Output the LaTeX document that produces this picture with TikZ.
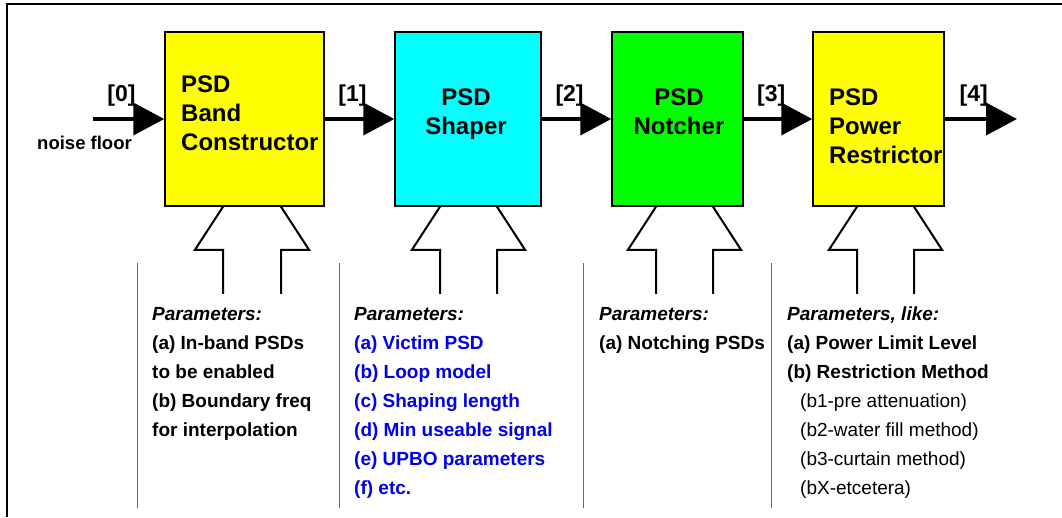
\documentclass[tikz,border=0pt]{standalone}
\usepackage{fontspec}
\setmainfont{Liberation Sans}
\usetikzlibrary{arrows.meta,positioning}

\definecolor{parmblue}{RGB}{0,0,235}
\definecolor{boxyellow}{RGB}{255,255,0}
\definecolor{boxcyan}{RGB}{0,255,255}
\definecolor{boxgreen}{RGB}{0,255,0}

%% open block arrow under a box: box name, left stem x, right stem x
\newcommand{\parmarrow}[3]{%
  \draw[parm arrow] (#2,0 |- #1.south) -- ++(-28,43) -- ++(28,0) -- ++(0,44);
  \draw[parm arrow] (#3,0 |- #1.south) -- ++(28,43) -- ++(-28,0) -- ++(0,44);
}

\begin{document}
\begin{tikzpicture}[x=1pt, y=-1pt,
  psd box/.style={draw, line width=1.5pt, minimum height=174pt, inner sep=0},
  box text/.style={inner sep=0, font=\fontsize{24}{29}\selectfont\bfseries},
  flow/.style={line width=4pt, -{Triangle[length=31pt,width=32pt]}},
  flow label/.style={above=11pt, inner sep=0, font=\fontsize{23}{27}\selectfont\bfseries},
  parm arrow/.style={line width=2pt},
  parm text/.style={anchor=north west, inner sep=0, align=left, font=\fontsize{19}{29}\selectfont\bfseries},
  sep line/.style={draw=black!60, line width=1pt}]

\useasboundingbox (0,0) rectangle (1062,517);

%% frame
\draw[line width=1.5pt] (7,517) -- (7,4) -- (1062,4);

%% boxes
\node[psd box, fill=boxyellow, minimum width=159pt] (band) at (244.5,119) {};
\node[psd box, fill=boxcyan, minimum width=146pt] (shaper) at (468,119) {};
\node[psd box, fill=boxgreen, minimum width=131pt] (notcher) at (677.5,119) {};
\node[psd box, fill=boxyellow, minimum width=131pt] (power) at (878.5,119) {};

\node[box text, anchor=north west, align=left] (band-t) at (181,75.5) {PSD\\Band\\Constructor};
\node[box text, anchor=north, align=center] (shaper-t) at (466,88.5) {PSD\\Shaper};
\node[box text, anchor=north, align=center] (notcher-t) at (679,88.5) {PSD\\Notcher};
\node[box text, anchor=north west, align=left] (power-t) at (829,88.5) {PSD\\Power\\Restrictor};

%% flow arrows
\coordinate (floor) at (93,119);
\coordinate (out) at (1017,119);
\draw[flow] (floor) -- (band) node[flow label, pos=.4] {[0]};
\draw[flow] (band) -- (shaper) node[flow label, pos=.4] {[1]};
\draw[flow] (shaper) -- (notcher) node[flow label, pos=.4] {[2]};
\draw[flow] (notcher) -- (power) node[flow label, pos=.4] {[3]};
\draw[flow] (power) -- (out) node[flow label, pos=.4] {[4]};
\node[font=\fontsize{18.5}{22}\selectfont\bfseries, inner sep=0] (floor-t) at (84.5,143) {noise floor};

%% parameter inputs
\parmarrow{band}{223}{281}
\parmarrow{shaper}{440}{497}
\parmarrow{notcher}{656}{713}
\parmarrow{power}{857}{914}

\foreach \x in {137,339,583,771}
  \draw[sep line] (\x,263) -- (\x,508);

%% parameter lists
\node[parm text] (band-p) at (152,307) {\textit{Parameters:}\\(a) In-band PSDs\\to be enabled\\(b) Boundary freq\\for interpolation};
\node[parm text, text=parmblue] (shaper-p) at (354,307) {\textcolor{black}{\textit{Parameters:}}\\(a) Victim PSD\\(b) Loop model\\(c) Shaping length\\(d) Min useable signal\\(e) UPBO parameters\\(f) etc.};
\node[parm text] (notcher-p) at (599,307) {\textit{Parameters:}\\(a) Notching PSDs};
\node[parm text] (power-p) at (787,307) {\textit{Parameters, like:}\\(a) Power Limit Level\\(b) Restriction Method\\
  \hspace*{13pt}{\mdseries (b1-pre attenuation)}\\
  \hspace*{13pt}{\mdseries (b2-water fill method)}\\
  \hspace*{13pt}{\mdseries (b3-curtain method)}\\
  \hspace*{13pt}{\mdseries (bX-etcetera)}};

\end{tikzpicture}
\end{document}
